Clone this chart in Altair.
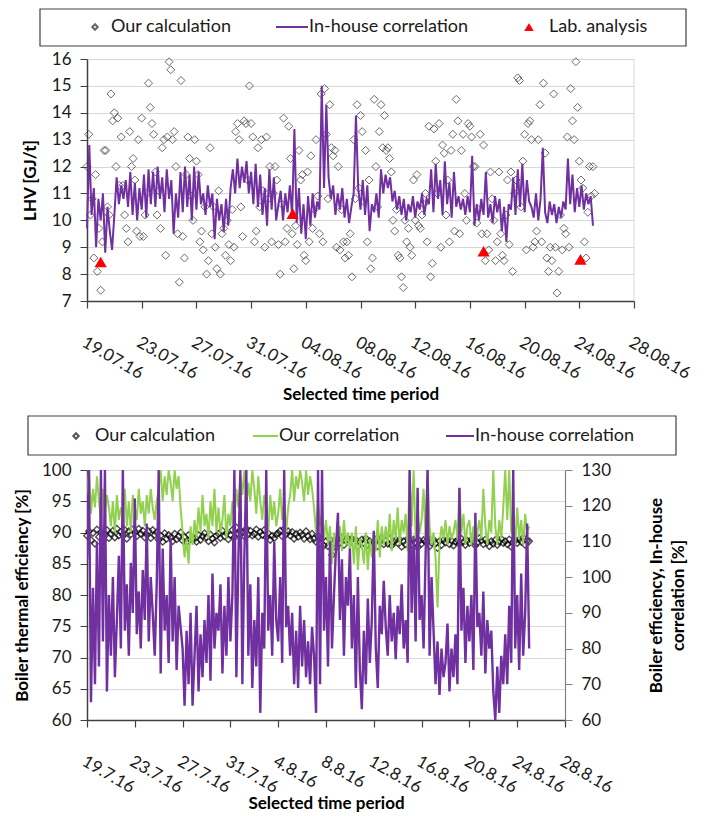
import altair as alt
import pandas as pd

FONT = "Lato"
PURPLE = "#7030A0"
GREEN = "#92D050"
RED = "#FF0000"
AXIS = "#404040"
GRID = "#D9D9D9"
INK = "#1a1a1a"

# ---------------- data ----------------
tick_dates = ["2016-07-19", "2016-07-23", "2016-07-27", "2016-07-31", "2016-08-04",
              "2016-08-08", "2016-08-12", "2016-08-16", "2016-08-20", "2016-08-24",
              "2016-08-28"]

# top panel: LHV from our calculation (3-hourly from 19.07.16)
lhv_calc = [
    12.0, 13.2, 10.2, 10.8, 8.6, 11.7, 8.1, 9.7,
    7.4, 9.2, 12.6, 12.6, 10.5, 10.2, 14.7, 13.7,
    14.0, 12.0, 13.8, 11.3, 13.1, 11.3, 10.2, 9.7,
    9.2, 13.3, 12.0, 12.3, 11.5, 9.6, 13.0, 9.4,
    13.8, 9.4, 10.2, 11.0, 15.1, 14.2, 13.6, 13.2,
    11.8, 10.2, 11.1, 9.7, 12.7, 13.0, 8.7, 13.1,
    15.9, 15.6, 13.0, 13.3, 12.0, 9.5, 7.7, 15.2,
    9.4, 8.6, 11.7, 13.1, 12.3, 10.9, 10.0, 13.0,
    12.2, 11.7, 9.2, 9.6, 8.9, 10.5, 8.0, 8.5,
    12.7, 9.5, 10.5, 9.0, 8.2, 11.1, 8.0, 9.5,
    9.7, 8.7, 10.0, 9.1, 8.5, 10.4, 9.0, 13.3,
    13.6, 13.0, 10.5, 9.4, 13.7, 13.6, 11.5, 15.0,
    13.6, 13.1, 9.2, 9.6, 12.7, 10.5, 13.0, 11.1,
    9.0, 13.1, 10.8, 12.0, 9.2, 11.0, 12.0, 11.5,
    9.1, 8.0, 10.6, 13.8, 9.2, 9.7, 13.5, 12.3,
    9.5, 8.2, 9.8, 9.1, 12.6, 11.5, 11.7, 8.7,
    8.5, 11.8, 9.2, 12.4, 9.7, 10.4, 13.0, 10.9,
    9.5, 14.7, 9.2, 14.9, 13.2, 10.8, 14.3, 12.7,
    12.4, 12.6, 9.0, 12.0, 8.9, 10.4, 9.2, 8.6,
    9.2, 8.7, 9.5, 7.9, 13.0, 10.8, 14.3, 11.2,
    13.9, 13.3, 10.7, 12.6, 9.2, 11.5, 8.2, 8.6,
    14.5, 12.0, 10.5, 13.3, 14.3, 12.7, 13.9, 12.6,
    12.7, 12.3, 11.8, 10.0, 9.6, 10.4, 8.7, 8.6,
    7.9, 7.5, 10.0, 9.2, 9.7, 9.0, 8.7, 11.5,
    10.0, 11.7, 9.8, 9.7, 10.2, 10.6, 11.0, 9.2,
    13.5, 7.9, 8.4, 13.4, 12.2, 11.0, 13.6, 9.0,
    12.8, 12.5, 10.2, 11.5, 9.2, 12.6, 13.2, 9.6,
    14.5, 13.7, 9.5, 12.6, 13.2, 11.0, 10.0, 13.6,
    13.5, 13.1, 12.0, 12.0, 9.9, 10.4, 13.2, 9.5,
    12.8, 8.5, 9.5, 8.9, 11.8, 10.8, 10.0, 8.5,
    9.2, 11.8, 9.5, 8.7, 8.5, 10.2, 11.5, 9.1,
    11.8, 8.1, 11.0, 11.5, 15.3, 15.2, 10.5, 12.2,
    13.2, 8.9, 13.6, 13.7, 13.0, 9.0, 9.2, 9.6,
    13.0, 14.3, 9.2, 15.1, 12.5, 8.6, 8.1, 9.0,
    8.5, 14.7, 9.0, 7.3, 8.1, 10.2, 8.9, 9.7,
    9.5, 13.1, 9.0, 14.9, 13.7, 13.0, 15.9, 14.2,
    12.2, 11.5, 11.2, 9.2, 8.6, 10.3, 12.0, 10.9,
    12.0, 11.0,
]

# top panel: LHV from in-house correlation (4-hourly)
lhv_inhouse = [
    9.7, 12.8, 10.2, 11.2, 9.0, 10.8,
    10.0, 11.0, 8.8, 10.5, 9.6, 8.9,
    10.2, 11.6, 10.6, 11.3, 10.8, 11.5,
    10.5, 11.8, 10.2, 11.4, 10.0, 11.2,
    10.4, 11.7, 10.1, 11.9, 10.6, 11.8,
    10.5, 12.0, 10.8, 11.6, 10.3, 11.9,
    10.8, 11.5, 9.5, 11.0, 10.1, 11.8,
    10.3, 12.0, 10.5, 11.7, 10.0, 12.0,
    10.4, 11.8, 10.6, 11.0, 10.2, 11.3,
    10.5, 11.0, 9.3, 10.8, 10.0, 10.6,
    9.6, 10.8, 9.8, 11.2, 11.9, 11.0,
    12.3, 11.2, 12.0, 11.4, 12.2, 11.0,
    11.8, 10.6, 12.1, 10.5, 11.7, 10.2,
    11.2, 9.8, 11.9, 10.4, 11.6, 10.0,
    10.6, 11.1, 10.0, 11.0, 10.3, 11.3,
    10.2, 13.4, 9.9, 11.2, 9.5, 10.6,
    9.3, 10.9, 9.8, 11.0, 10.1, 10.7,
    10.4, 15.0, 11.2, 14.3, 11.6, 10.8,
    11.3, 10.2, 11.0, 10.4, 11.2, 10.1,
    10.8, 9.9, 10.5, 11.0, 13.9, 11.2,
    10.4, 11.5, 10.2, 11.3, 9.6, 10.6,
    10.3, 11.0, 10.1, 11.9, 11.0, 11.7,
    11.2, 11.6, 10.7, 11.1, 10.4, 10.9,
    10.2, 10.8, 10.0, 10.6, 10.3, 10.9,
    10.1, 10.7, 10.4, 11.0, 10.2, 10.8,
    10.6, 11.9, 10.3, 12.1, 10.8, 11.5,
    10.2, 12.2, 10.6, 11.4, 10.1, 11.8,
    10.5, 10.9, 10.4, 10.8, 10.2, 10.9,
    10.3, 12.4, 9.8, 10.6, 10.0, 10.8,
    10.2, 11.8, 10.1, 10.6, 9.9, 10.9,
    10.3, 10.8, 9.6, 10.5, 9.2, 10.6,
    10.4, 11.6, 10.2, 11.9, 10.5, 12.1,
    10.3, 11.5, 10.7, 10.5, 10.1, 11.0,
    10.0, 10.8, 12.7, 10.3, 9.9, 10.7,
    10.2, 10.6, 9.9, 10.5, 10.1, 10.7,
    10.4, 12.3, 10.6, 11.7, 10.3, 11.2,
    10.5, 11.3, 10.4, 11.0, 10.6, 10.9,
    9.8,
]

lab_dates = ["2016-07-20T00:00", "2016-08-03T01:00", "2016-08-17T00:00", "2016-08-24T02:00"]
lab_lhv = [8.45, 10.25, 8.85, 8.55]

# bottom panel: boiler thermal efficiency, our calculation (4-hourly)
eff_calc = [
    89.5, 90.2, 88.8, 89.9, 88.2, 90.5,
    89.3, 90.0, 88.7, 89.8, 90.4, 89.1,
    89.8, 90.3, 89.2, 90.6, 89.5, 90.1,
    89.6, 90.4, 89.0, 90.2, 89.7, 90.5,
    90.0, 89.4, 90.6, 89.8, 90.3, 89.2,
    89.7, 90.2, 89.1, 90.4, 89.6, 90.0,
    88.8, 89.5, 88.5, 89.9, 89.0, 89.6,
    89.2, 88.6, 89.8, 88.9, 89.4, 90.0,
    88.7, 89.3, 88.4, 89.6, 88.9, 89.1,
    89.0, 88.5, 89.6, 88.8, 89.4, 89.9,
    89.2, 88.6, 89.7, 89.0, 88.4, 89.5,
    89.8, 89.1, 90.3, 89.4, 89.9, 88.9,
    89.6, 90.4, 89.2, 90.8, 89.8, 90.2,
    90.0, 89.4, 90.6, 89.7, 90.3, 89.5,
    89.8, 90.5, 89.3, 90.1, 89.6, 90.4,
    89.2, 89.9, 88.8, 89.5, 89.1, 89.7,
    89.9, 90.3, 89.4, 90.6, 89.7, 90.2,
    89.5, 90.1, 89.0, 89.8, 89.3, 90.0,
    89.6, 89.0, 90.2, 89.4, 88.9, 89.8,
    89.0, 88.5, 89.4, 88.2, 89.1, 87.9,
    88.6, 87.8, 88.9, 86.4, 88.3, 87.6,
    88.9, 88.3, 89.2, 88.0, 88.7, 89.1,
    88.6, 89.0, 88.2, 88.8, 87.8, 88.5,
    88.9, 88.3, 89.1, 88.0, 88.6, 87.9,
    88.4, 88.9, 87.8, 88.6, 89.2, 88.1,
    88.7, 88.2, 89.0, 87.9, 88.5, 88.8,
    88.3, 88.9, 87.7, 88.6, 88.1, 89.0,
    88.6, 88.0, 88.9, 88.4, 87.6, 88.7,
    88.2, 88.8, 88.5, 89.1, 87.8, 88.4,
    88.9, 88.3, 87.5, 88.6, 88.0, 88.8,
    88.4, 88.9, 88.1, 88.7, 87.9, 88.5,
    88.8, 88.2, 89.0, 88.5, 88.0, 88.7,
    88.3, 88.9, 88.6, 87.9, 88.4, 89.1,
    88.7, 88.1, 88.9, 88.4, 87.8, 88.6,
    88.2, 88.8, 88.0, 88.5, 89.0, 88.3,
    88.6, 88.1, 88.9, 87.7, 88.4, 88.8,
    88.3, 88.9, 88.5, 89.2, 88.0, 88.7,
    88.6,
]

# bottom panel: our correlation (left axis)
eff_ourcorr = [
    96, 100, 93, 97, 94, 99,
    95, 92, 97, 93, 96, 94,
    91, 95, 90, 96, 92, 94,
    93, 97, 91, 95, 90, 96,
    94, 92, 97, 93, 95, 91,
    96, 93, 97, 94, 92, 95,
    97, 100, 95, 99, 96, 100,
    98, 95, 100, 97, 99, 94,
    90, 86, 89, 85, 91, 88,
    92, 89, 94, 90, 96, 91,
    93, 89, 95, 91, 97, 90,
    94, 90, 92, 96, 89, 93,
    91, 95, 92, 97, 94, 99,
    96, 100, 94, 98, 95, 100,
    97, 93, 99, 95, 92, 96,
    94, 90, 96, 92, 95, 91,
    93, 97, 92, 95, 90, 94,
    96, 100, 95, 99, 97, 100,
    98, 95, 100, 96, 99, 97,
    94, 90, 95, 91, 93, 89,
    92, 88, 91, 85, 90, 87,
    89, 91, 87, 92, 88, 90,
    87, 90, 85, 91, 84, 89,
    88, 85, 90, 84, 89, 86,
    90, 87, 92, 86, 91, 88,
    91, 88, 93, 87, 92, 89,
    94, 88, 92, 90, 93, 87,
    100, 91, 100, 89, 93, 90,
    92, 97, 89, 100, 91, 88,
    90, 86, 78, 88, 91, 89,
    92, 88, 91, 89, 90, 92,
    89, 97, 90, 93, 88, 91,
    92, 88, 91, 87, 90, 92,
    89, 97, 91, 88, 92, 90,
    100, 91, 88, 92, 89, 94,
    100, 92, 100, 90, 93, 88,
    94, 89, 92, 88, 93, 90,
    91,
]

# bottom panel: in-house correlation (right axis)
eff_inhouse = [
    105, 130, 65, 97, 70, 110,
    75, 130, 82, 130, 68, 95,
    78, 100, 72, 88, 106, 80,
    130, 85, 98, 78, 104, 90,
    122, 84, 96, 80, 102, 88,
    115, 82, 100, 90, 78, 98,
    130, 73, 108, 85, 95, 76,
    111, 82, 100, 74, 92, 86,
    80, 64, 85, 70, 90, 64,
    78, 92, 68, 84, 72, 88,
    76, 95, 71, 101, 80, 90,
    85, 98, 73, 92, 78, 100,
    82, 95, 130, 72, 105, 130,
    70, 106, 130, 78, 98, 69,
    88, 75, 100, 62, 90, 80,
    130, 85, 95, 78, 110, 88,
    82, 100, 76, 130, 86, 92,
    78, 90, 70, 85, 69, 92,
    75, 88, 72, 82, 70, 86,
    78, 62, 130, 70, 130, 85,
    100, 75, 110, 80, 95, 108,
    118, 88, 105, 78, 100, 92,
    108, 80, 95, 69, 100, 74,
    63, 85, 70, 94, 76, 88,
    113, 80, 69, 92, 84, 99,
    86, 78, 95, 82, 90, 77,
    92, 84, 98, 80, 88, 76,
    130, 90, 111, 82, 125, 88,
    95, 80, 106, 130, 78, 100,
    85, 70, 82, 67, 80, 72,
    76, 87, 68, 80, 72, 84,
    70, 125, 85, 97, 76, 92,
    82, 95, 74, 118, 86, 90,
    78, 96, 73, 88, 80, 85,
    68, 60, 75, 62, 78, 70,
    84, 70, 92, 76, 130, 80,
    95, 74, 101, 78, 90, 115,
    80,
]

# ---------------- frames ----------------
def dt(s):
    y, m, d = (int(v) for v in s.split("-"))
    return alt.DateTime(year=y, month=m, date=d)

tick_vals = [dt(s) for s in tick_dates]
x_domain = [tick_vals[0], tick_vals[-1]]

top_calc_df = pd.DataFrame({"t": pd.date_range("2016-07-19", periods=len(lhv_calc), freq="3h"),
                            "LHV": lhv_calc})
top_inh_df = pd.DataFrame({"t": pd.date_range("2016-07-19", periods=len(lhv_inhouse), freq="4h"),
                           "LHV": lhv_inhouse})
lab_df = pd.DataFrame({"t": pd.to_datetime(lab_dates), "LHV": lab_lhv})

bot_calc_df = pd.DataFrame({"t": pd.date_range("2016-07-19", periods=len(eff_calc), freq="4h"),
                            "eff": eff_calc})
bot_our_df = pd.DataFrame({"t": pd.date_range("2016-07-19", periods=len(eff_ourcorr), freq="4h"),
                           "eff": eff_ourcorr})
bot_inh_df = pd.DataFrame({"t": pd.date_range("2016-07-19", periods=len(eff_inhouse), freq="4h"),
                           "inh": eff_inhouse})

one = alt.Data(values=[{}])

# ---------------- axes ----------------
def x_enc(fmt, title_pad):
    return alt.X("t:T", scale=alt.Scale(domain=x_domain),
                 axis=alt.Axis(values=tick_vals, format=fmt, labelAngle=30, labelAlign="left",
                               labelBaseline="top", labelPadding=26, labelFlush=False,
                               labelOverlap=False, tickSize=7, tickColor=AXIS, domainColor=AXIS,
                               domainWidth=1.5, tickWidth=1.2, grid=False,
                               title="Selected time period", titlePadding=title_pad))

TW, TH = 547, 242
BW, BH = 478, 250

y_top = alt.Y("LHV:Q", scale=alt.Scale(domain=[7, 16]),
              axis=alt.Axis(values=list(range(7, 17)), title="LHV [GJ/t]", tickSize=7,
                            labelPadding=9, grid=True, gridColor=GRID, domainColor=AXIS,
                            domainWidth=1.5, tickColor=AXIS, labelOverlap=False, titlePadding=12))

tx = x_enc("%d.%m.%y", 5)
top_scatter = alt.Chart(top_calc_df).mark_point(shape="diamond", filled=False, size=64,
                                                 color="#2b2b2b", strokeWidth=1).encode(
    x=tx, y=y_top)
top_line = alt.Chart(top_inh_df).mark_line(color=PURPLE, strokeWidth=2).encode(x=tx, y=y_top)
top_lab = alt.Chart(lab_df).mark_point(shape="triangle-up", filled=True, size=150,
                                        color=RED, opacity=1).encode(x=tx, y=y_top)
top_border = alt.Chart(one).mark_rule(color=GRID).encode(
    x=alt.value(TW), y=alt.value(0), y2=alt.value(TH))

LY = -32
top_leg = [
    alt.Chart(one).mark_rect(fill="white", stroke=AXIS, strokeWidth=1.2).encode(
        x=alt.value(-47), x2=alt.value(599), y=alt.value(-50), y2=alt.value(-13)),
    alt.Chart(one).mark_point(shape="diamond", filled=False, size=30, color="#2b2b2b").encode(
        x=alt.value(8), y=alt.value(LY)),
    alt.Chart(one).mark_text(text="Our calculation", align="left", baseline="middle",
                             font=FONT, fontSize=18, color=INK).encode(
        x=alt.value(24), y=alt.value(LY)),
    alt.Chart(one).mark_rule(color=PURPLE, strokeWidth=2).encode(
        x=alt.value(189), x2=alt.value(221), y=alt.value(LY)),
    alt.Chart(one).mark_text(text="In-house correlation", align="left", baseline="middle",
                             font=FONT, fontSize=18, color=INK).encode(
        x=alt.value(222), y=alt.value(LY)),
    alt.Chart(one).mark_point(shape="triangle-up", filled=True, size=90, color=RED, opacity=1).encode(
        x=alt.value(442), y=alt.value(LY)),
    alt.Chart(one).mark_text(text="Lab. analysis", align="left", baseline="middle",
                             font=FONT, fontSize=18, color=INK).encode(
        x=alt.value(462), y=alt.value(LY)),
]

top = alt.layer(top_scatter, top_line, top_lab, top_border, *top_leg).properties(
    width=TW, height=TH)

# bottom
y_left = alt.Y("eff:Q", scale=alt.Scale(domain=[60, 100]),
               axis=alt.Axis(values=list(range(60, 101, 5)), title="Boiler thermal efficiency [%]",
                             tickSize=7, labelPadding=9, grid=True, gridColor=GRID,
                             domainColor=AXIS, domainWidth=1.5, tickColor=AXIS,
                             labelOverlap=False, titlePadding=10))
y_right = alt.Y("inh:Q", scale=alt.Scale(domain=[60, 130]),
                axis=alt.Axis(values=list(range(60, 131, 10)), orient="right",
                              title=["Boiler efficiency, In-house", "correlation [%]"],
                              titleAngle=270, titleBaseline="top", titleLineHeight=22,
                              tickSize=7, labelPadding=9,
                              grid=False, domainColor="#808080", domainWidth=1.2,
                              tickColor="#808080", labelOverlap=False, titlePadding=16))

bx = x_enc("%-d.%-m.%y", 0)
b_calc = alt.Chart(bot_calc_df).mark_point(shape="diamond", filled=False, size=42,
                                            color="#000000", strokeWidth=1.4).encode(x=bx, y=y_left)
b_our = alt.Chart(bot_our_df).mark_line(color=GREEN, strokeWidth=2, clip=True).encode(x=bx, y=y_left)
left_layer = alt.layer(b_calc, b_our)
b_inh = alt.Chart(bot_inh_df).mark_line(color=PURPLE, strokeWidth=2.4, clip=True).encode(x=bx, y=y_right)

BLY = -34
bot_leg = [
    alt.Chart(one).mark_rect(fill="white", stroke=AXIS, strokeWidth=1.2).encode(
        x=alt.value(-59), x2=alt.value(589), y=alt.value(-54), y2=alt.value(-15)),
    alt.Chart(one).mark_point(shape="diamond", filled=False, size=30, color="#111111").encode(
        x=alt.value(-11), y=alt.value(BLY)),
    alt.Chart(one).mark_text(text="Our calculation", align="left", baseline="middle",
                             font=FONT, fontSize=18, color=INK).encode(
        x=alt.value(8), y=alt.value(BLY)),
    alt.Chart(one).mark_rule(color=GREEN, strokeWidth=2).encode(
        x=alt.value(166), x2=alt.value(191), y=alt.value(BLY)),
    alt.Chart(one).mark_text(text="Our correlation", align="left", baseline="middle",
                             font=FONT, fontSize=18, color=INK).encode(
        x=alt.value(192), y=alt.value(BLY)),
    alt.Chart(one).mark_rule(color=PURPLE, strokeWidth=2).encode(
        x=alt.value(359), x2=alt.value(387), y=alt.value(BLY)),
    alt.Chart(one).mark_text(text="In-house correlation", align="left", baseline="middle",
                             font=FONT, fontSize=18, color=INK).encode(
        x=alt.value(388), y=alt.value(BLY)),
]

bottom = alt.layer(left_layer, b_inh, *bot_leg).resolve_scale(y="independent").properties(
    width=BW, height=BH)

chart = alt.vconcat(top, bottom, spacing=12).resolve_scale(
    x="independent", y="independent").properties(
    padding={"left": 5, "top": 0, "right": 4, "bottom": 0}
).configure_view(stroke=None).configure_axis(
    labelFont=FONT, labelFontSize=17, labelColor=INK,
    titleFont=FONT, titleFontSize=17, titleFontWeight="bold", titleColor="#000000"
)

chart.save("out.html", embed_options={"renderer": "svg", "actions": False})
